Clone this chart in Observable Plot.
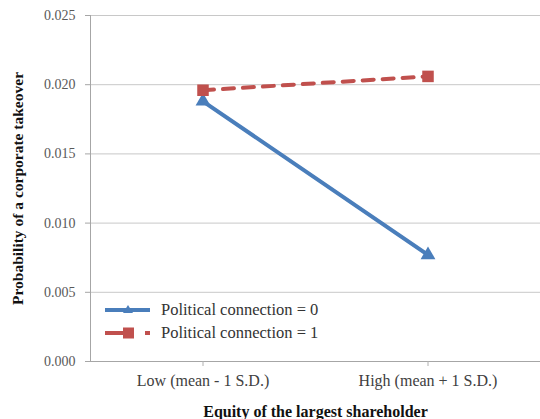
<!DOCTYPE html>
<html><head>
<meta charset="utf-8">
<script src="https://cdn.jsdelivr.net/npm/d3@7"></script>
<script src="https://cdn.jsdelivr.net/npm/@observablehq/plot@0.6"></script>
<style>
body{margin:0;background:#fff}
#wrap{position:relative;width:540px;height:419px;overflow:hidden}
#wrap svg{font-family:"Liberation Serif","Times New Roman",serif}
#wrap svg g[aria-label="y-axis label"] text{font-weight:bold;fill:#111;font-size:15.5px}
#wrap svg g[aria-label="x-axis label"] text{font-weight:bold;fill:#111;font-size:16px}
.legend{position:absolute;left:104px;top:298px;font-family:"Liberation Serif",serif;font-size:16.5px;color:#333}
.legend .row{display:flex;align-items:center;height:23px}
.legend svg{margin-right:9px}
</style>
</head><body><div id="wrap"></div>
<script>
const categories = ["Low (mean - 1 S.D.)", "High (mean + 1 S.D.)"];
const seriesNames = ["Political connection = 0", "Political connection = 1"];
const connection0 = [0.0188, 0.0077];
const connection1 = [0.0196, 0.0206];
const yTicks = [0, 0.005, 0.010, 0.015, 0.020, 0.025];
const colors = ["#4A7EBB", "#C0504D"];

const d0 = categories.map((c, i) => ({cat: c, v: connection0[i]}));
const d1 = categories.map((c, i) => ({cat: c, v: connection1[i]}));

const chart = Plot.plot({
  width: 540,
  height: 419,
  marginLeft: 90,
  marginRight: 0,
  marginTop: 15,
  marginBottom: 58,
  style: {fontFamily: "'Liberation Serif', serif", fontSize: "13px", background: "#fff"},
  x: {type: "band", domain: categories, padding: 0},
  y: {domain: [0, 0.025]},
  marks: [
    Plot.ruleY(yTicks.slice(1), {stroke: "#c8c8c8", strokeWidth: 1}),
    Plot.ruleY([0], {stroke: "#a6a6a6", strokeWidth: 1}),
    Plot.frame({anchor: "left", stroke: "#a6a6a6"}),
    Plot.axisY(yTicks, {tickFormat: d3.format(".3f"), tickSize: 5, tickPadding: 10, stroke: "#a6a6a6", fill: "#595959", fontSize: 14,
      label: "Probability of a corporate takeover", labelAnchor: "center", labelArrow: "none", labelOffset: 79}),
    Plot.axisX({tickSize: 5, tickPadding: 8, stroke: "#b0b0b0", fill: "#404040", fontSize: 16,
      label: "Equity of the largest shareholder", labelAnchor: "center", labelArrow: "none", labelOffset: 55}),
    Plot.line(d1, {x: "cat", y: "v", stroke: colors[1], strokeWidth: 4, strokeDasharray: "11,9"}),
    Plot.line(d0, {x: "cat", y: "v", stroke: colors[0], strokeWidth: 4}),
    Plot.dot(d0, {x: "cat", y: "v", symbol: "triangle", fill: colors[0], r: 5.5}),
    Plot.dot(d1, {x: "cat", y: "v", symbol: "square", fill: colors[1], r: 6.5})
  ]
});
const wrap = document.getElementById("wrap");
wrap.appendChild(chart);

const legend = document.createElement("div");
legend.className = "legend";
seriesNames.forEach((name, i) => {
  const row = document.createElement("div");
  row.className = "row";
  const sw = i === 0
    ? `<svg width="48" height="14"><line x1="1" y1="7" x2="46" y2="7" stroke="${colors[0]}" stroke-width="4"/><path d="M24,2 L29,10 L19,10 Z" fill="${colors[0]}"/></svg>`
    : `<svg width="48" height="14"><line x1="1" y1="7" x2="21" y2="7" stroke="${colors[1]}" stroke-width="4"/><rect x="19" y="1.5" width="11" height="11" fill="${colors[1]}"/><line x1="41" y1="7" x2="46" y2="7" stroke="${colors[1]}" stroke-width="4"/></svg>`;
  row.innerHTML = sw + `<span>${name}</span>`;
  legend.appendChild(row);
});
wrap.appendChild(legend);
</script>
</body></html>
